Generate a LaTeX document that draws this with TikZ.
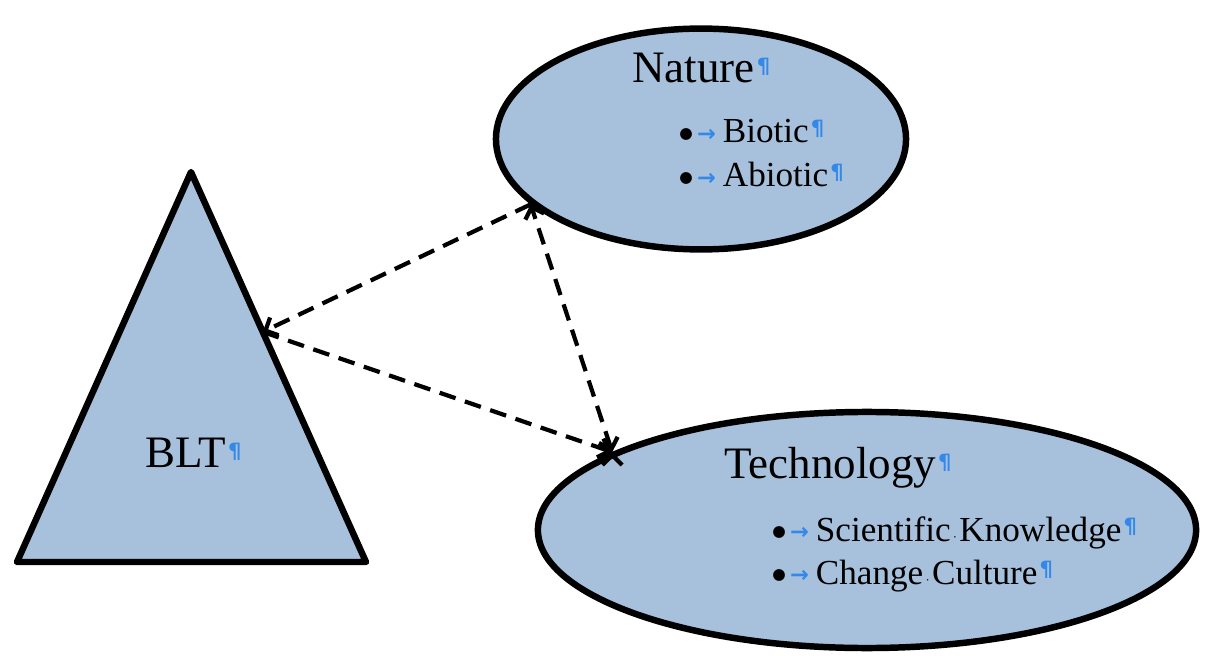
\documentclass[tikz,border=0pt]{standalone}
\usepackage{fontspec}
\setmainfont{Liberation Serif}
\newfontfamily\markfont{DejaVu Sans}
\usetikzlibrary{positioning,calc,shapes.geometric,arrows.meta}
\definecolor{shapeblue}{RGB}{167,193,221}
\definecolor{markblue}{RGB}{52,136,232}
\newcommand{\titlesize}{\fontsize{32}{38}\selectfont}
\newcommand{\itemsize}{\fontsize{25}{30}\selectfont}
\newcommand{\pil}{\kern1.5pt\raisebox{0.2em}{\color{markblue}\markfont\bfseries\fontsize{15}{15}\selectfont ¶}}
\newcommand{\tabarr}{\raisebox{1pt}{\color{markblue}\markfont\bfseries\fontsize{16}{16}\selectfont →}}
\newcommand{\bul}{\raisebox{3.5pt}{\markfont\fontsize{11}{11}\selectfont ●}}
\newcommand{\spc}{\makebox[0.25em]{\fontsize{9}{9}\selectfont ·}}
\newcommand{\itm}[1]{\bul\hspace{3pt}\tabarr\hspace{5pt}#1\pil}

\begin{document}
\begin{tikzpicture}[x=0.025cm,y=-0.025cm]
  \useasboundingbox (0,0) rectangle (1205,656);
  \tikzset{
    shapeline/.style={draw=black,line width=4.6pt,fill=shapeblue,line join=round},
    link/.style={draw=black,line width=3pt,dash pattern=on 12pt off 7pt},
  }
  \coordinate (apex) at (191,172);
  \coordinate (blc) at (17,562);
  \coordinate (brc) at (366,562);
  \path[shapeline] (apex) -- (brc) -- (blc) -- cycle;
  \coordinate (bltside) at ($(apex)!0.41!(brc)$);
  \node[ellipse,shapeline,minimum width=10.25cm,minimum height=5.52cm] (nature) at (701,139) {};
  \node[ellipse,shapeline,minimum width=16.45cm,minimum height=5.9cm] (technology) at (867,530) {};
  \begin{scope}[
    every node/.style={anchor=base west,inner sep=0pt},
    ]
    \node[font=\titlesize] (blt) at (145,467) {BLT\pil};
    \node[font=\titlesize] (naturetitle) at (632,83) {Nature\pil};
    \node[font=\itemsize] (biotic) at (679,143) {\itm{Biotic}};
    \node[font=\itemsize] (abiotic) at (679,187) {\itm{Abiotic}};
    \node[font=\titlesize] (techtitle) at (724,478) {Technology\pil};
    \node[font=\itemsize] (knowledge) at (772,541) {\itm{Scientific\spc Knowledge}};
    \node[font=\itemsize] (culture) at (772,584) {\itm{Change\spc Culture}};
  \end{scope}
  \begin{scope}[
    every path/.style={link},
    >={Straight Barb[length=7pt,width=14pt]},
    ]
    \path[->]
    (nature.201)     edge          (bltside)
    (bltside)        edge          (technology.163)
    (technology.163) edge[<->]     (nature.201);
  \end{scope}
\end{tikzpicture}
\end{document}
